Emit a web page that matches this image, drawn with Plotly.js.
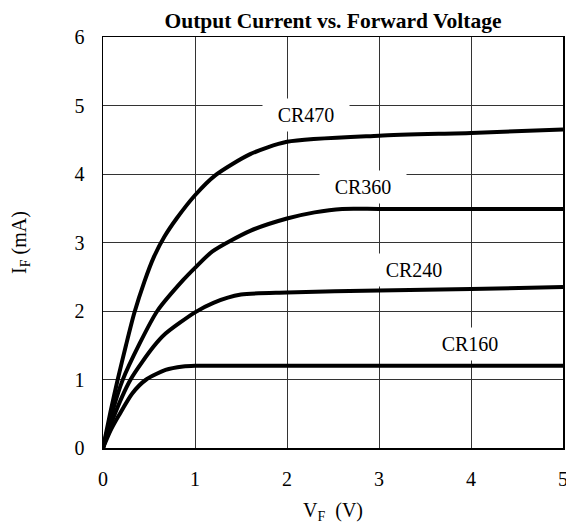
<!DOCTYPE html>
<html>
<head>
<meta charset="utf-8">
<script src="https://cdn.plot.ly/plotly-3.0.1.min.js"></script>
<style>html,body{margin:0;padding:0;background:#fff;}</style>
</head>
<body>
<div id="chart" style="width:566px;height:524px;"></div>
<script>
// Data
const seriesNames = ["CR470", "CR360", "CR240", "CR160"];

const cr470X = [0, 0.08, 0.16, 0.25, 0.34, 0.45, 0.55, 0.67, 0.8, 1.0, 1.22, 1.6, 2.0, 3.0, 4.0, 5.0];
const cr470Y = [0, 0.52, 1.0, 1.5, 1.97, 2.43, 2.78, 3.09, 3.35, 3.69, 3.98, 4.29, 4.47, 4.56, 4.60, 4.65];

const cr360X = [0, 0.1, 0.21, 0.4, 0.59, 0.87, 1.0, 1.19, 1.6, 2.0, 2.3, 2.6, 3.0, 4.0, 5.0];
const cr360Y = [0, 0.52, 0.98, 1.53, 2.0, 2.45, 2.63, 2.87, 3.17, 3.35, 3.44, 3.49, 3.49, 3.49, 3.49];

const cr240X = [0, 0.1, 0.3, 0.55, 0.68, 1.0, 1.2, 1.5, 2.0, 3.0, 4.0, 5.0];
const cr240Y = [0, 0.4, 1.0, 1.48, 1.67, 1.98, 2.12, 2.24, 2.27, 2.30, 2.32, 2.35];

const cr160X = [0, 0.08, 0.17, 0.32, 0.47, 0.68, 0.87, 1.0, 2.0, 3.0, 4.0, 5.0];
const cr160Y = [0, 0.25, 0.47, 0.8, 1.0, 1.14, 1.19, 1.2, 1.2, 1.2, 1.2, 1.2];

const xTicks = [0, 1, 2, 3, 4, 5];
const yTicks = [0, 1, 2, 3, 4, 5, 6];

// Label anchor positions (data coordinates)
const labelX = [2.21, 2.83, 3.38, 3.99];
const labelY = [4.86, 3.81, 2.60, 1.52];

const FONT = 'Liberation Serif, Times New Roman, Times, serif';

const xs = [cr470X, cr360X, cr240X, cr160X];
const ys = [cr470Y, cr360Y, cr240Y, cr160Y];

const traces = seriesNames.map((n, i) => ({
  x: xs[i], y: ys[i], name: n, type: 'scatter', mode: 'lines',
  line: {color: '#000', width: 4, shape: 'spline', smoothing: 0.7},
  hoverinfo: 'skip'
}));

const annotations = seriesNames.map((n, i) => ({
  x: labelX[i], y: labelY[i], xref: 'x', yref: 'y',
  text: n, showarrow: false,
  font: {family: FONT, size: 20, color: '#000'},
  bgcolor: '#fff', borderpad: 0, width: 86, height: 32,
  xanchor: 'center', yanchor: 'middle'
}));

const layout = {
  width: 566, height: 524,
  margin: {l: 103, r: 3, t: 37, b: 76},
  paper_bgcolor: '#fff', plot_bgcolor: '#fff',
  showlegend: false,
  font: {family: FONT, size: 20, color: '#000'},
  title: {
    text: '<b>Output Current vs. Forward Voltage</b>',
    font: {family: FONT, size: 21.5, color: '#000'},
    x: 0.5, xref: 'paper', xanchor: 'center',
    y: 1 - 20/524, yref: 'container', yanchor: 'middle'
  },
  xaxis: {
    range: [0, 5], tickvals: xTicks, ticktext: xTicks.map(String),
    showgrid: true, gridcolor: '#333', gridwidth: 1,
    showline: true, linecolor: '#000', linewidth: 1.5, mirror: true,
    zeroline: false, ticks: '', ticklabelstandoff: 12,
    ticklabeloverflow: 'allow',
    tickfont: {family: FONT, size: 20},
    title: {text: 'V<sub>F</sub>  (V)', font: {family: FONT, size: 20}, standoff: 22},
    fixedrange: true
  },
  yaxis: {
    range: [0, 6], tickvals: yTicks, ticktext: yTicks.map(String),
    showgrid: true, gridcolor: '#333', gridwidth: 1,
    showline: true, linecolor: '#000', linewidth: 1.5, mirror: true,
    zeroline: false, ticks: '', ticklabelstandoff: 13,
    ticklabeloverflow: 'allow',
    tickfont: {family: FONT, size: 20},
    title: {text: 'I<sub>F</sub> (mA)', font: {family: FONT, size: 20}, standoff: 42},
    fixedrange: true
  },
  annotations: annotations
};

Plotly.newPlot('chart', traces, layout, {displayModeBar: false, staticPlot: true});
</script>
</body>
</html>
